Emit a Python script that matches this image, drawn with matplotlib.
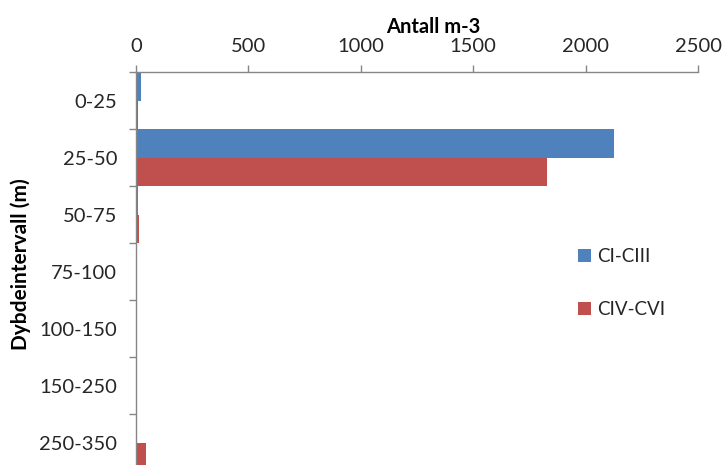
import matplotlib
matplotlib.use("Agg")
import matplotlib.pyplot as plt
import numpy as np

categories = ["0-25", "25-50", "50-75", "75-100", "100-150", "150-250", "250-350"]
ci_ciii = [22, 2125, 8, 5, 4, 4, 4]
civ_cvi = [8, 1830, 12, 5, 5, 5, 45]
series_names = ["CI-CIII", "CIV-CVI"]
x_ticks = [0, 500, 1000, 1500, 2000, 2500]

blue = "#4F81BD"
red = "#C0504D"
axis_grey = "#868686"
text_col = "#262626"

plt.rcParams["font.family"] = ["Lato", "DejaVu Sans"]

W, H = 726, 465
fig = plt.figure(figsize=(W / 100, H / 100), dpi=100)
ax = fig.add_axes([136 / W, (H - 471) / H, 562 / W, 399 / H])

y = np.arange(len(categories))
ax.barh(y - 0.25, ci_ciii, height=0.5, color=blue, label=series_names[0])
ax.barh(y + 0.25, civ_cvi, height=0.5, color=red, label=series_names[1])

ax.set_xlim(0, 2500)
ax.set_ylim(len(categories) - 0.5, -0.5)

ax.xaxis.tick_top()
ax.set_xticks(x_ticks)
ax.set_xticklabels([str(v) for v in x_ticks])
ax.tick_params(axis="x", direction="out", length=5, width=1, color=axis_grey,
               labelsize=14.5, labelcolor=text_col, pad=7)

ax.set_yticks(y)
ax.set_yticklabels(categories)
ax.tick_params(axis="y", which="major", length=0, labelsize=14.5,
               labelcolor=text_col, pad=13.5)
ax.set_yticks(np.arange(len(categories) + 1) - 0.5, minor=True)
ax.tick_params(axis="y", which="minor", direction="out", length=5, width=1,
               color=axis_grey)

for side in ["right", "bottom"]:
    ax.spines[side].set_visible(False)
for side in ["left", "top"]:
    ax.spines[side].set_color(axis_grey)
    ax.spines[side].set_linewidth(1)

fig.text(433 / W, 1 - 27 / H, "Antall m-3", ha="center", va="center",
         fontsize=14.5, fontweight="bold", color="black")
fig.text(21 / W, 1 - 264 / H, "Dybdeintervall (m)", ha="center", va="center",
         rotation=90, fontsize=15, fontweight="bold", color="black")

leg = fig.legend(loc="center left", bbox_to_anchor=(561 / W, 1 - 283 / H),
                 frameon=False, fontsize=13.5, handlelength=0.7, handleheight=0.7,
                 handletextpad=0.3, labelspacing=1.95, labelcolor=text_col)

fig.savefig("out.png", dpi=100)
